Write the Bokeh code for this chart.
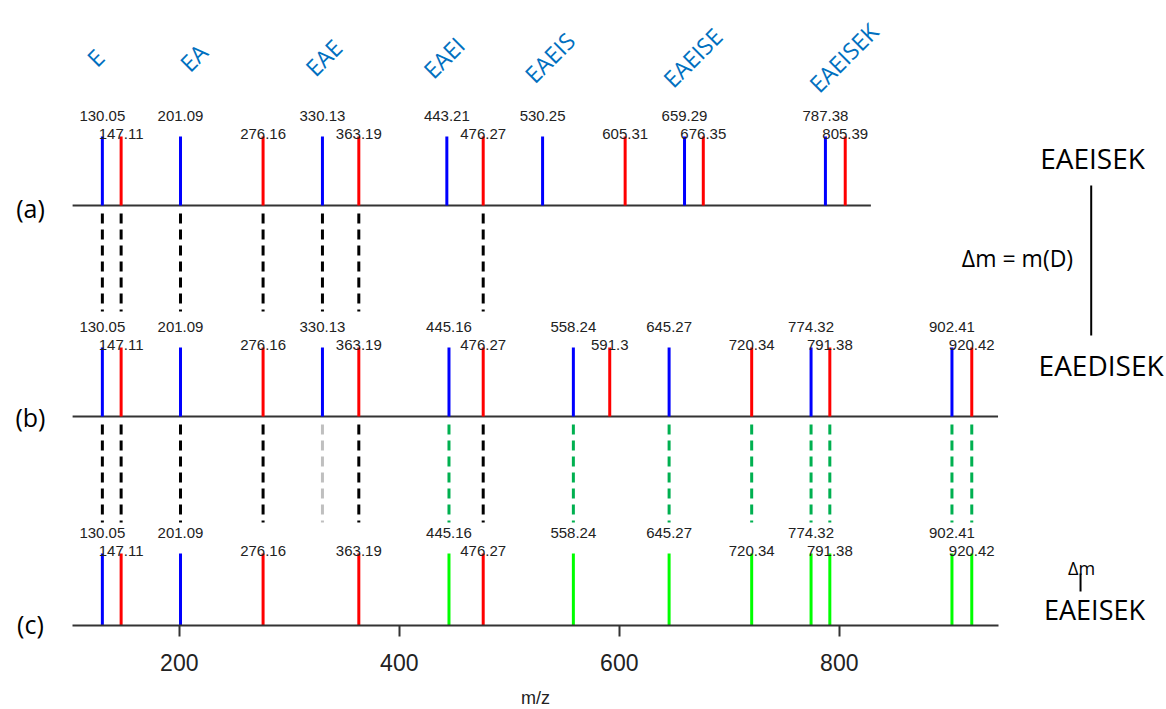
import math
from bokeh.plotting import figure
from bokeh.models import Range1d, FixedTicker, Label, ColumnDataSource, LinearAxis
from bokeh.core.properties import value
from bokeh.embed import file_html
from bokeh.resources import INLINE

# ---------------- data ----------------
peptides = ["E", "EA", "EAE", "EAEI", "EAEIS", "EAEISE", "EAEISEK"]

# panel (a): EAEISEK
a_b_ions = [130.05, 201.09, 330.13, 443.21, 530.25, 659.29, 787.38]
a_b_kind = ["b", "b", "b", "b", "b", "b", "b"]
a_y_ions = [147.11, 276.16, 363.19, 476.27, 605.31, 676.35, 805.39]
a_y_kind = ["y", "y", "y", "y", "y", "y", "y"]

# panel (b): EAEDISEK
b_b_ions = [130.05, 201.09, 330.13, 445.16, 558.24, 645.27, 774.32, 902.41]
b_b_kind = ["b", "b", "b", "b", "b", "b", "b", "b"]
b_y_ions = [147.11, 276.16, 363.19, 476.27, 591.3, 720.34, 791.38, 920.42]
b_y_kind = ["y", "y", "y", "y", "y", "y", "y", "y"]

# panel (c): EAEISEK + delta m
c_b_ions = [130.05, 201.09, 445.16, 558.24, 645.27, 774.32, 902.41]
c_b_kind = ["b", "b", "shift", "shift", "shift", "shift", "shift"]
c_y_ions = [147.11, 276.16, 363.19, 476.27, 720.34, 791.38, 920.42]
c_y_kind = ["y", "y", "y", "y", "shift", "shift", "shift"]

# matches between panels
ab_matched = [130.05, 147.11, 201.09, 276.16, 330.13, 363.19, 476.27]
bc_matched = [130.05, 147.11, 201.09, 276.16, 363.19, 476.27]
bc_missing = [330.13]
bc_shifted = [445.16, 558.24, 645.27, 720.34, 774.32, 791.38, 902.41, 920.42]

x_ticks = [200, 400, 600, 800]

# ---------------- styling / layout ----------------
KIND_COLOR = {"b": "#0000FF", "y": "#FF0000", "shift": "#00FF00"}
BASE = {"a": 421, "b": 210, "c": 1}
HEIGHT = {"a": 69, "b": 69, "c": 72}
AXIS_START = 103.0
AXIS_END = {"a": 828.7, "b": 944.3, "c": 944.3}
LABEL_FONT = value("Liberation Sans")
ANN_FONT = "Open Sans"

p = figure(width=1166, height=709, output_backend="svg", toolbar_location=None,
           x_range=Range1d(37.45, 1097.45), y_range=Range1d(-83, 626),
           min_border_left=0, min_border_right=0, min_border_top=0,
           min_border_bottom=0, x_axis_location=None, y_axis_location=None)
p.outline_line_color = None
p.xgrid.visible = False
p.ygrid.visible = False
p.background_fill_color = "white"
p.border_fill_color = "white"

# x axis drawn on the baseline of panel (c)
ax = LinearAxis(fixed_location=BASE["c"], bounds=(AXIS_START, AXIS_END["c"]),
                ticker=FixedTicker(ticks=x_ticks), axis_label="m/z")
ax.axis_line_color = "#333333"
ax.axis_line_width = 2
ax.major_tick_line_color = "#333333"
ax.major_tick_line_width = 2
ax.major_tick_out = 11
ax.major_tick_in = 0
ax.minor_tick_line_color = None
ax.major_label_text_font = "Liberation Sans"
ax.major_label_text_font_size = "23px"
ax.major_label_text_color = "#222222"
ax.major_label_standoff = 17
ax.axis_label_text_font = "Liberation Sans"
ax.axis_label_text_font_style = "normal"
ax.axis_label_text_font_size = "18px"
ax.axis_label_text_color = "#222222"
ax.axis_label_standoff = 14
p.add_layout(ax, "below")

# baselines of panels (a) and (b)
p.segment(x0=[AXIS_START] * 2, x1=[AXIS_END["a"], AXIS_END["b"]],
          y0=[BASE["a"], BASE["b"]], y1=[BASE["a"], BASE["b"]],
          line_color="#333333", line_width=2)


def draw_panel(key, b_ions, b_kind, y_ions, y_kind):
    base = BASE[key]
    top = base + HEIGHT[key]
    xs = b_ions + y_ions
    kinds = b_kind + y_kind
    src = ColumnDataSource(dict(
        x=xs, y0=[base] * len(xs), y1=[top] * len(xs),
        color=[KIND_COLOR[k] for k in kinds]))
    p.segment(x0="x", y0="y0", x1="x", y1="y1", line_color="color",
              line_width=3, source=src)
    lab_b = ColumnDataSource(dict(x=b_ions, y=[top + 21] * len(b_ions),
                                  t=[str(v) for v in b_ions]))
    lab_y = ColumnDataSource(dict(x=y_ions, y=[top + 3] * len(y_ions),
                                  t=[str(v) for v in y_ions]))
    for s in (lab_b, lab_y):
        p.text(x="x", y="y", text="t", source=s, text_align="center",
               text_baseline="middle", text_font=LABEL_FONT,
               text_font_size="15px", text_color="#222222")


draw_panel("a", a_b_ions, a_b_kind, a_y_ions, a_y_kind)
draw_panel("b", b_b_ions, b_b_kind, b_y_ions, b_y_kind)
draw_panel("c", c_b_ions, c_b_kind, c_y_ions, c_y_kind)


def connectors(xs, upper, color):
    y0 = BASE[upper] - 8
    y1 = BASE[upper] - 106
    p.segment(x0=xs, x1=xs, y0=[y0] * len(xs), y1=[y1] * len(xs),
              line_color=color, line_width=3, line_dash="10 6")


connectors(ab_matched, "a", "#000000")
connectors(bc_matched, "b", "#000000")
connectors(bc_missing, "b", "#BFBFBF")
connectors(bc_shifted, "b", "#00B050")

# rotated peptide labels above panel (a)
p.text(x=a_b_ions, y=[569] * len(peptides), text=peptides,
       x_offset=[-7, 13, 1, -3, 7, 8, 18], angle=math.pi / 4,
       text_align="center", text_baseline="middle",
       text_font=value(ANN_FONT), text_font_size="23px", text_color="#0070C0")

# panel letters
for txt, yy in (("(a)", 419), ("(b)", 210), ("(c)", 3)):
    p.add_layout(Label(x=64.7, y=yy, text=txt, text_align="center",
                       text_baseline="middle", text_font=ANN_FONT,
                       text_font_size="25px", text_color="#000000"))


# right-hand annotations
def ann(x, y, txt, size):
    p.add_layout(Label(x=x, y=y, text=txt, text_align="center",
                       text_baseline="middle", text_font=ANN_FONT,
                       text_font_size=size, text_color="#000000"))


ann(1030.2, 468.5, "EAEISEK", "28px")
ann(962.0, 368.5, "Δm = m(D)", "23px")
ann(1038.0, 262.0, "EAEDISEK", "28px")
ann(1020.2, 59.0, "Δm", "18px")
ann(1032.0, 17.5, "EAEISEK", "27px")
p.segment(x0=[1029.0, 1019.3], x1=[1029.0, 1019.3], y0=[441, 53], y1=[291, 35],
          line_color="#000000", line_width=2)

open("out.html", "w").write(file_html(p, INLINE))
